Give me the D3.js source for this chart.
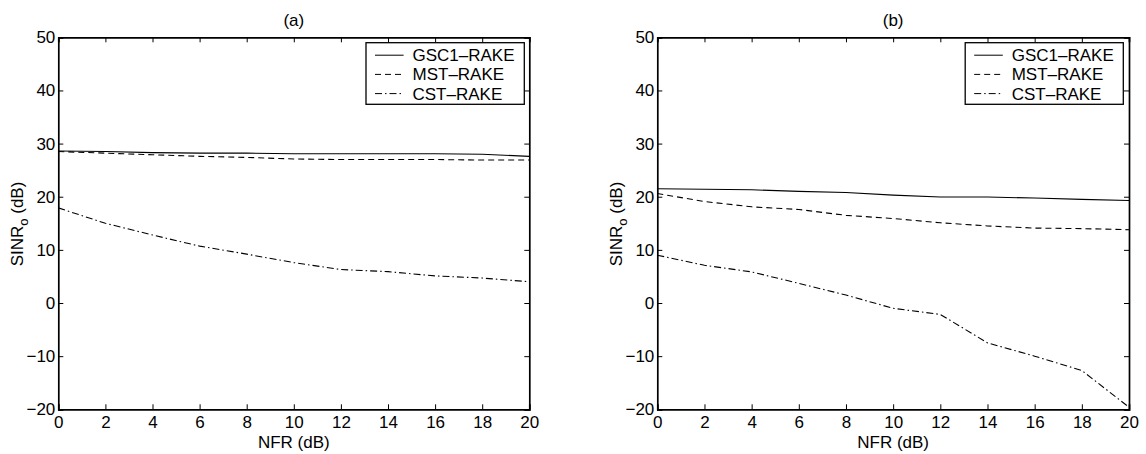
<!DOCTYPE html>
<html>
<head>
<meta charset="utf-8">
<script src="https://cdn.jsdelivr.net/npm/d3@7"></script>
<style>
  body { margin: 0; background: #fff; }
  text { font-family: "Liberation Sans", Arial, sans-serif; }
</style>
</head>
<body>
<svg class="chartSVG"></svg>
<script>
const svgWidth = 1146;
const svgHeight = 454;

// data
const nfr = [0, 2, 4, 6, 8, 10, 12, 14, 16, 18, 20];
const seriesNames = ["GSC1\u2013RAKE", "MST\u2013RAKE", "CST\u2013RAKE"];

const gscA = [28.6, 28.5, 28.3, 28.2, 28.2, 28.1, 28.1, 28.1, 28.1, 28.0, 27.6];
const mstA = [28.5, 28.2, 27.9, 27.6, 27.4, 27.1, 27.0, 27.0, 27.0, 26.9, 26.9];
const cstA = [17.9, 15.0, 12.8, 10.7, 9.2, 7.6, 6.3, 5.9, 5.1, 4.7, 4.0];

const gscB = [21.5, 21.4, 21.3, 21.0, 20.8, 20.3, 19.95, 19.95, 19.75, 19.5, 19.3];
const mstB = [20.6, 19.1, 18.1, 17.6, 16.5, 15.9, 15.1, 14.5, 14.1, 14.0, 13.8];
const cstB = [9.0, 7.1, 5.85, 3.7, 1.5, -1.0, -2.15, -7.5, -10.0, -12.7, -19.6];

const xTicks = [0, 2, 4, 6, 8, 10, 12, 14, 16, 18, 20];
const yTicks = [-20, -10, 0, 10, 20, 30, 40, 50];

const dashes = [null, "6,4", "7,3,1.5,3"];

const svg = d3.select('.chartSVG')
  .attr("width", svgWidth)
  .attr("height", svgHeight);

const panels = [
  { title: "(a)", left: 58.3, right: 529.3, legX: 366, legW: 158.3, data: [gscA, mstA, cstA] },
  { title: "(b)", left: 657.3, right: 1129, legX: 965.2, legW: 158.1, data: [gscB, mstB, cstB] }
];

const plotTop = 37.3, plotBottom = 409.3;
const fontSize = 17;

panels.forEach(function(p) {
  const w = p.right - p.left;
  const h = plotBottom - plotTop;
  const g = svg.append("g").attr("transform", `translate(${p.left},${plotTop})`);

  const x = d3.scaleLinear().domain([0, 20]).range([0, w]);
  const y = d3.scaleLinear().domain([-20, 50]).range([h, 0]);

  // lines
  p.data.forEach(function(vals, i) {
    g.append("path")
      .datum(vals)
      .attr("fill", "none")
      .attr("stroke", "#000")
      .attr("stroke-width", 1.1)
      .attr("stroke-dasharray", dashes[i])
      .attr("d", d3.line()
        .x(function(d, j) { return x(nfr[j]); })
        .y(function(d) { return y(d); }));
  });

  // axes with inward ticks on all sides
  const axB = g.append("g").attr("transform", `translate(0,${h})`)
    .call(d3.axisBottom(x).tickValues(xTicks).tickSize(-5).tickPadding(6.5).tickFormat(d3.format("d")));
  const axT = g.append("g")
    .call(d3.axisTop(x).tickValues(xTicks).tickSize(-5).tickFormat(""));
  const axL = g.append("g")
    .call(d3.axisLeft(y).tickValues(yTicks).tickSize(-5).tickPadding(3)
      .tickFormat(function(d) { return d < 0 ? "\u2212" + (-d) : d; }));
  const axR = g.append("g").attr("transform", `translate(${w},0)`)
    .call(d3.axisRight(y).tickValues(yTicks).tickSize(-5).tickFormat(""));

  [axB, axT, axL, axR].forEach(function(a) {
    a.select(".domain").attr("stroke", "#000").attr("stroke-width", 1.7);
    a.selectAll(".tick line").attr("stroke", "#000").attr("stroke-width", 1);
    a.selectAll("text").attr("fill", "#000").style("font-size", fontSize + "px")
      .style("font-family", "'Liberation Sans', Arial, sans-serif");
  });

  // title
  g.append("text")
    .attr("x", w / 2).attr("y", 26 - plotTop)
    .attr("text-anchor", "middle")
    .style("font-size", fontSize + "px")
    .text(p.title);

  // x label
  g.append("text")
    .attr("x", w / 2).attr("y", 448 - plotTop)
    .attr("text-anchor", "middle")
    .style("font-size", fontSize + "px")
    .text("NFR (dB)");

  // y label
  const yl = g.append("text")
    .attr("transform", `translate(-35.5,${224 - plotTop}) rotate(-90)`)
    .attr("text-anchor", "middle")
    .style("font-size", fontSize + "px");
  yl.append("tspan").text("SINR");
  yl.append("tspan").attr("dy", 5).style("font-size", "13px").text("o");
  yl.append("tspan").attr("dy", -5).text(" (dB)");

  // legend
  const leg = svg.append("g").attr("transform", `translate(${p.legX},42.7)`);
  leg.append("rect")
    .attr("width", p.legW).attr("height", 61.6)
    .attr("fill", "#fff").attr("stroke", "#000").attr("stroke-width", 1.3);
  seriesNames.forEach(function(name, i) {
    const ly = 12.5 + i * 19.2;
    leg.append("line")
      .attr("x1", 9).attr("x2", 37.6)
      .attr("y1", ly).attr("y2", ly)
      .attr("stroke", "#000").attr("stroke-width", 1)
      .attr("stroke-dasharray", dashes[i]);
    leg.append("text")
      .attr("x", 46.5).attr("y", ly + 6)
      .style("font-size", fontSize + "px")
      .text(name);
  });
});
</script>
</body>
</html>
